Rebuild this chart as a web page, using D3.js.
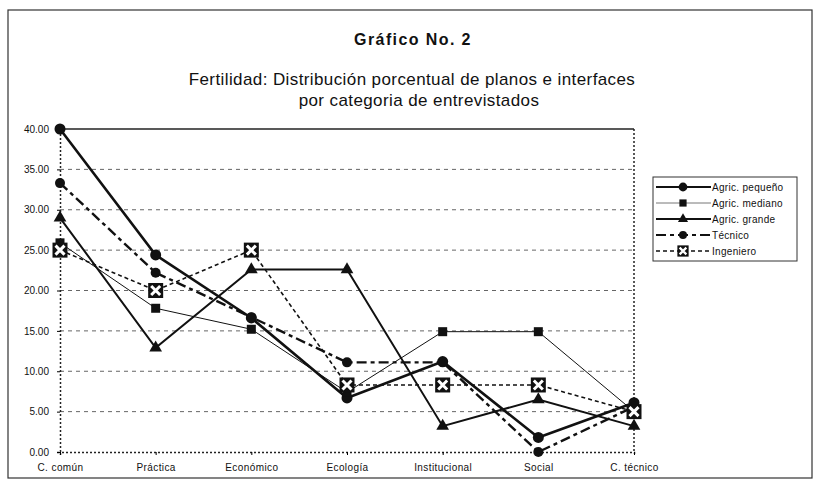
<!DOCTYPE html>
<html>
<head>
<meta charset="utf-8">
<script src="https://cdn.jsdelivr.net/npm/d3@7"></script>
<style>
body{margin:0;background:#fff;}
text{font-family:"Liberation Sans",Arial,sans-serif;fill:#111;}
</style>
</head>
<body>
<svg id="chart" width="817" height="487"></svg>
<script>
// categories and series
const categorias = ["C. común","Práctica","Económico","Ecología","Institucional","Social","C. técnico"];
const pequeno   = [40.0, 24.4, 16.6, 6.7, 11.2, 1.8, 6.1];
const mediano   = [25.9, 17.8, 15.2, 7.4, 14.9, 14.9, 5.0];
const grande    = [29.0, 12.9, 22.6, 22.6, 3.2, 6.5, 3.2];
const tecnico   = [33.3, 22.2, 16.7, 11.1, 11.1, 0.0, 5.6];
const ingeniero = [25.0, 20.0, 25.0, 8.3, 8.3, 8.3, 5.0];
const yTicks = [0,5,10,15,20,25,30,35,40];

const series = [
  {name:"Agric. pequeño", values:pequeno,   width:2.6, dash:null,      marker:"circle"},
  {name:"Agric. mediano", values:mediano,   width:1,   dash:null,      marker:"square"},
  {name:"Agric. grande",  values:grande,    width:2,   dash:null,      marker:"triangle"},
  {name:"Técnico",        values:tecnico,   width:2.4, dash:"10,4,4,4",marker:"dot"},
  {name:"Ingeniero",      values:ingeniero, width:1.6, dash:"4,3",     marker:"xbox"}
];

const svg = d3.select("#chart");
const m = {left:60, right:634, top:129, bottom:452};

// outer frame
svg.append("rect").attr("x",8).attr("y",10).attr("width",804).attr("height",468)
  .attr("fill","none").attr("stroke","#333").attr("stroke-width",1.2);

svg.append("text").attr("x",413).attr("y",45).attr("text-anchor","middle")
  .style("font-size","16px").style("font-weight","bold").style("letter-spacing","1.4px")
  .text("Gráfico No. 2");
svg.append("text").attr("x",412).attr("y",85).attr("text-anchor","middle")
  .style("font-size","17px").style("letter-spacing","0.4px")
  .text("Fertilidad: Distribución porcentual de planos e interfaces");
svg.append("text").attr("x",419).attr("y",106).attr("text-anchor","middle")
  .style("font-size","17px").style("letter-spacing","0.4px")
  .text("por categoria de entrevistados");

const x = d3.scalePoint().domain(categorias).range([m.left,m.right]).padding(0);
const y = d3.scaleLinear().domain([0,40]).range([m.bottom,m.top]);

// grid
svg.append("g").selectAll("line").data(yTicks.filter(t=>t>0&&t<40)).join("line")
  .attr("x1",m.left).attr("x2",m.right).attr("y1",d=>y(d)).attr("y2",d=>y(d))
  .attr("stroke","#666").attr("stroke-width",1).attr("stroke-dasharray","4,4");

// plot border
svg.append("line").attr("x1",m.left).attr("x2",m.right).attr("y1",m.top).attr("y2",m.top)
  .attr("stroke","#222").attr("stroke-width",1.5);
svg.append("line").attr("x1",m.right).attr("x2",m.right).attr("y1",m.top).attr("y2",m.bottom)
  .attr("stroke","#222").attr("stroke-width",1.5).attr("stroke-dasharray","2,2");

const yAxis = svg.append("g").attr("transform",`translate(${m.left},0)`)
  .call(d3.axisLeft(y).tickValues(yTicks).tickFormat(d3.format(".2f")).tickSize(3));
yAxis.select(".domain").attr("stroke","#222").attr("stroke-width",1.5).attr("stroke-dasharray","2,2");
yAxis.selectAll("text").style("font-size","10px").attr("dx","-5");

const xAxis = svg.append("g").attr("transform",`translate(0,${m.bottom})`)
  .call(d3.axisBottom(x).tickSize(3));
xAxis.select(".domain").attr("stroke","#222").attr("stroke-width",1.5).attr("stroke-dasharray","2,2");
xAxis.selectAll("text").style("font-size","10px").style("letter-spacing","0.4px").attr("dy","1.3em");

const line = d3.line().x((d,i)=>x(categorias[i])).y(d=>y(d));

function drawMarker(g, type){
  if(type==="circle"||type==="dot"){
    g.append("circle").attr("r",type==="circle"?5.5:5).attr("fill","#111");
  }else if(type==="square"){
    g.append("rect").attr("x",-4.5).attr("y",-4.5).attr("width",9).attr("height",9).attr("fill","#111");
  }else if(type==="triangle"){
    g.append("path").attr("d",d3.symbol(d3.symbolTriangle,70)()).attr("fill","#111");
  }else{
    g.append("rect").attr("x",-7.5).attr("y",-7.5).attr("width",15).attr("height",15).attr("fill","#111");
    g.append("path").attr("d","M-4.5,-4.5L4.5,4.5M4.5,-4.5L-4.5,4.5")
      .attr("stroke","#fff").attr("stroke-width",3);
  }
}

series.forEach(s=>{
  svg.append("path").datum(s.values).attr("d",line).attr("fill","none")
    .attr("stroke","#111").attr("stroke-width",s.width)
    .attr("stroke-dasharray",s.dash);
});
series.forEach(s=>{
  s.values.forEach((v,i)=>{
    drawMarker(svg.append("g").attr("transform",`translate(${x(categorias[i])},${y(v)})`), s.marker);
  });
});

// legend
const lg = svg.append("g").attr("transform","translate(653,177)");
lg.append("rect").attr("width",144).attr("height",84).attr("fill","#fff")
  .attr("stroke","#333").attr("stroke-width",1);
series.forEach((s,i)=>{
  const yy = 10 + i*16;
  lg.append("line").attr("x1",3).attr("x2",58).attr("y1",yy).attr("y2",yy)
    .attr("stroke",s.marker==="square"?"#777":"#111").attr("stroke-width",Math.min(s.width,2))
    .attr("stroke-dasharray",s.dash);
  const mg = lg.append("g").attr("transform",`translate(30,${yy}) scale(${s.marker==="xbox"?0.75:0.8})`);
  drawMarker(mg, s.marker);
  lg.append("text").attr("x",59).attr("y",yy+3.5).style("font-size","10px")
    .style("letter-spacing","0.3px").text(s.name);
});
</script>
</body>
</html>
